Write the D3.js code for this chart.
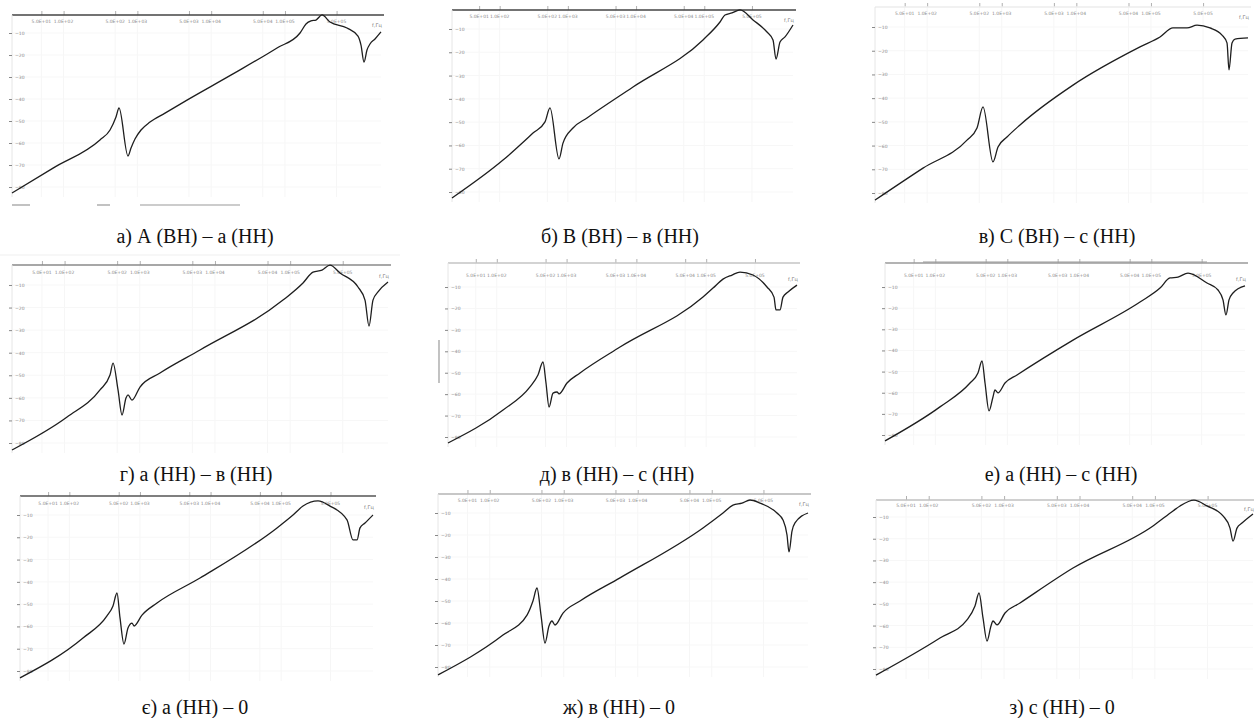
<!DOCTYPE html>
<html>
<head>
<meta charset="utf-8">
<script src="https://cdn.jsdelivr.net/npm/d3@7"></script>
<style>
  body { margin: 0; background: #fff; }
  svg { display: block; }
  .caption { font-family: 'Liberation Serif', 'Times New Roman', serif; }
</style>
</head>
<body>
<svg id="chart" width="1254" height="718"></svg>
<script>
'use strict';

// Tick values (log frequency, Hz / attenuation, dB).
var freqTicks = [50, 100, 500, 1000, 5000, 10000, 50000, 100000, 500000];
var freqTickLabels = ['5.0E+01', '1.0E+02', '5.0E+02', '1.0E+03', '5.0E+03',
  '1.0E+04', '5.0E+04', '1.0E+05', '5.0E+05'];
var dbTicks = [-10, -20, -30, -40, -50, -60, -70, -80];
var freqUnit = 'f,Гц';

var captions = [
  'а) А (ВН) – а (НН)', 'б) В (ВН) – в (НН)', 'в) С (ВН) – с (НН)',
  'г) а (НН) – в (НН)', 'д) в (НН) – с (НН)', 'е) а (НН) – с (НН)',
  'є) а (НН) – 0', 'ж) в (НН) – 0', 'з) с (НН) – 0'
];

// [frequency Hz, level dB]
var respA = [[20, -82.7], [72, -71.4], [311, -58.6], [426, -54.1], [513, -48.2], [564, -44.1],
  [746, -65.9], [820, -62.3], [928, -58.2], [1120, -54.1], [1482, -50.5], [2368, -46.4],
  [4702, -40.5], [19750, -28.6], [77960, -16.8], [159800, -10.0], [192600, -5.9],
  [225200, -4.5], [263200, -4.1], [317400, -1.8], [407400, -5.0], [692400, -7.7],
  [975800, -11.4], [1071600, -15.5], [1176800, -23.2], [1292000, -17.7], [1419000, -15.0],
  [1659000, -12.7], [2000000, -9.5]];

var respB = [[20, -82.6], [112, -66.3], [308, -54.7], [462, -49.9], [547, -43.9], [741, -65.8],
  [848, -59.0], [1189, -52.5], [1908, -48.2], [9016, -34.9], [95820, -14.7], [170100, -7.0],
  [201300, -4.0], [255000, -3.1], [334200, -1.8], [518400, -6.1], [831400, -11.3],
  [1018000, -14.7], [1127000, -22.9], [1290000, -15.6], [1527000, -13.4], [2000000, -8.3]];

var respC = [[20, -83.0], [88, -69.5], [342, -57.7], [466, -52.6], [561, -43.7], [763, -66.9],
  [891, -60.6], [1176, -56.4], [1757, -51.3], [9020, -34.5], [71340, -18.4], [132300, -14.2],
  [197500, -10.4], [304400, -10.4], [414500, -9.2], [619000, -10.4], [896400, -13.4],
  [1046000, -16.7], [1113000, -28.1], [1221000, -16.7], [1339000, -15.1], [2000000, -14.6]];

var respD = [[20, -83.1], [108, -68.5], [296, -56.5], [402, -49.9], [441, -44.6], [514, -56.5],
  [581, -67.6], [656, -60.1], [697, -58.7], [788, -61.0], [1007, -55.2], [1858, -49.0],
  [6325, -38.8], [80300, -16.7], [148200, -9.1], [201300, -4.3], [265100, -3.4],
  [338600, -1.2], [460000, -4.7], [798200, -10.9], [988800, -16.7], [1118000, -28.2],
  [1263000, -16.7], [1472000, -13.1], [2000000, -8.7]];

var respE = [[20, -82.8], [123, -67.4], [299, -56.6], [389, -51.1], [459, -45.0], [507, -54.8],
  [560, -66.0], [639, -59.5], [729, -59.0], [779, -59.9], [1014, -54.8], [1557, -50.1],
  [5824, -38.0], [90020, -14.7], [125200, -10.5], [174100, -6.3], [234400, -4.4],
  [305200, -3.0], [468400, -4.4], [743400, -10.0], [936600, -14.7], [1000000, -20.7],
  [1141000, -20.7], [1260000, -14.7], [1486000, -12.3], [2000000, -9.1]];

var respF = [[20, -82.8], [116, -66.7], [303, -55.4], [391, -50.7], [445, -45.0], [490, -55.4],
  [557, -68.6], [632, -62.0], [674, -58.7], [742, -60.1], [928, -55.4], [1363, -51.6],
  [8170, -35.1], [69620, -17.1], [132000, -10.5], [181700, -5.7], [234600, -5.3],
  [323200, -3.4], [593200, -8.1], [843400, -11.4], [989600, -16.1], [1089000, -23.2],
  [1199000, -16.1], [1363000, -12.8], [2000000, -9.5]];

var respG = [[20, -83.1], [156, -65.2], [341, -55.3], [415, -50.8], [473, -45.0], [522, -56.2],
  [594, -67.9], [677, -60.7], [772, -58.5], [824, -59.8], [1069, -54.9], [1744, -49.5],
  [7090, -38.3], [87360, -15.8], [147200, -10.0], [203900, -6.0], [332700, -3.7],
  [492000, -6.0], [856500, -12.2], [1042000, -21.2], [1187000, -21.2], [1309000, -15.8],
  [1541000, -13.6], [2000000, -10.0]];

var respH = [[20, -83.6], [151, -65.5], [319, -56.4], [384, -50.0], [435, -44.1], [493, -56.4],
  [558, -69.1], [632, -61.4], [694, -59.1], [762, -60.9], [978, -55.5], [1659, -50.0],
  [5760, -39.5], [76220, -16.8], [142100, -10.0], [193900, -6.4], [256600, -5.5],
  [329000, -4.1], [449300, -5.5], [762200, -10.0], [918800, -13.2], [1041000, -20.0],
  [1107000, -27.7], [1216000, -18.2], [1334000, -14.5], [2000000, -10.0]];

var respI = [[20, -82.8], [141, -65.7], [322, -57.4], [411, -51.0], [465, -45.0], [525, -56.5],
  [593, -67.1], [670, -60.2], [712, -57.9], [805, -59.7], [1028, -54.2], [1625, -49.6],
  [8202, -33.5], [94360, -14.1], [173800, -7.2], [215200, -4.9], [330000, -2.2],
  [490800, -4.9], [800000, -9.5], [991000, -15.1], [1086000, -21.1], [1227000, -15.1],
  [1429000, -12.8], [2000000, -8.6]];

var series = [respA, respB, respC, respD, respE, respF, respG, respH, respI];

// Layout of each small plot inside the 1254x718 page (pixels).
var panels = [
  { L: 12, R: 381, y0: 11, y80: 187, top: 15, lab: 23, line: '#444', cx: 195, cy: 243 },
  { L: 452, R: 793, y0: 5.7, y80: 192, top: 10, lab: 18, line: '#444', cx: 620, cy: 243 },
  { L: 875, R: 1248, y0: 3.3, y80: 193, top: 7, lab: 15, line: '#ececec', cx: 1057, cy: 243 },
  { L: 12, R: 388, y0: 262.4, y80: 443, top: 265, lab: 274, line: '#8a8a8a', cx: 196, cy: 481 },
  { L: 448, R: 797, y0: 265.6, y80: 437, top: 263, lab: 277, line: '#c4c4c4', cx: 617, cy: 481 },
  { L: 885, R: 1245, y0: 265.9, y80: 435, top: 263, lab: 277, line: '#9a9a9a', cx: 1061, cy: 481 },
  { L: 20, R: 373, y0: 492.7, y80: 671, top: 496, lab: 505, line: '#555', cx: 195, cy: 714 },
  { L: 438, R: 808, y0: 491, y80: 667, top: 494, lab: 502, line: '#b4b4b4', cx: 619, cy: 714 },
  { L: 876, R: 1253, y0: 495.3, y80: 669, top: 500, lab: 507, line: '#c0c0c0', cx: 1062, cy: 714 }
];

// Stray screen-capture marks that show up in the scanned figure.
var strays = [
  { x1: 12, y1: 205, x2: 30, y2: 205 },
  { x1: 97, y1: 205, x2: 110, y2: 205 },
  { x1: 140, y1: 205, x2: 240, y2: 205 },
  { x1: 439, y1: 340, x2: 439, y2: 383 },
  { x1: 923, y1: 262, x2: 1207, y2: 262 },
  { x1: 0, y1: 255, x2: 400, y2: 255 }
];

var svg = d3.select('#chart');
var tickFont = 'DejaVu Sans, sans-serif';

var drawPanel = function(p, i) {
  var data = series[i];
  var x = d3.scaleLog().domain([20, 2e6]).range([p.L, p.R]);
  var y = d3.scaleLinear().domain([0, -80]).range([p.y0, p.y80]);
  var bottom = p.y80 + 10;
  var g = svg.append('g').attr('class', 'panel panel' + i);

  // faint grid, barely there in the scan
  g.append('g').selectAll('line')
    .data(freqTicks).enter().append('line')
    .attr('x1', function(d) { return x(d); })
    .attr('x2', function(d) { return x(d); })
    .attr('y1', p.top)
    .attr('y2', bottom)
    .attr('stroke', '#f6f6f6');
  g.append('g').selectAll('line')
    .data(dbTicks).enter().append('line')
    .attr('x1', p.L)
    .attr('x2', p.R)
    .attr('y1', function(d) { return y(d); })
    .attr('y2', function(d) { return y(d); })
    .attr('stroke', '#f7f7f7');

  // top frequency axis: ticks up, labels under the line
  var topAxis = g.append('g')
    .attr('transform', 'translate(0,' + p.top + ')')
    .call(d3.axisTop(x).tickValues(freqTicks).tickSize(4).tickFormat(''));
  topAxis.select('.domain').remove();
  topAxis.selectAll('.tick line').attr('stroke', '#b0b0b0');
  g.append('line')
    .attr('x1', p.L).attr('x2', p.R + 3)
    .attr('y1', p.top).attr('y2', p.top)
    .attr('stroke', p.line)
    .attr('stroke-width', 1.3);
  g.append('g').selectAll('text')
    .data(freqTicks).enter().append('text')
    .attr('x', function(d) { return x(d); })
    .attr('y', p.lab)
    .attr('text-anchor', 'middle')
    .attr('font-family', tickFont)
    .attr('font-size', 4.5)
    .attr('fill', '#8a8a8a')
    .text(function(d, k) { return freqTickLabels[k]; });
  g.append('text')
    .attr('x', p.R - 4)
    .attr('y', p.lab + 4)
    .attr('text-anchor', 'middle')
    .attr('font-family', tickFont)
    .attr('font-size', 5)
    .attr('fill', '#777')
    .text(freqUnit);

  // left level axis, labels sit inside the plot
  var leftAxis = g.append('g')
    .attr('transform', 'translate(' + p.L + ',0)')
    .call(d3.axisLeft(y).tickValues(dbTicks).tickSize(3).tickFormat(d3.format('d')));
  leftAxis.select('.domain')
    .attr('d', 'M0,' + p.top + 'V' + bottom)
    .attr('stroke', '#e6e6e6');
  leftAxis.selectAll('.tick line').attr('stroke', '#888');
  leftAxis.selectAll('.tick text')
    .attr('x', 3)
    .attr('text-anchor', 'start')
    .attr('font-family', tickFont)
    .attr('font-size', 4.5)
    .attr('fill', '#8a8a8a');

  // response curve
  var line = d3.line()
    .curve(d3.curveMonotoneX)
    .x(function(d) { return x(d[0]); })
    .y(function(d) { return y(d[1]); });
  g.append('path')
    .datum(data)
    .attr('d', line)
    .attr('fill', 'none')
    .attr('stroke', '#1e1e1e')
    .attr('stroke-width', 1.3)
    .attr('stroke-linejoin', 'round');

  g.append('text')
    .attr('class', 'caption')
    .attr('x', p.cx)
    .attr('y', p.cy)
    .attr('text-anchor', 'middle')
    .attr('font-size', 20)
    .attr('fill', '#111')
    .text(captions[i]);
};

panels.forEach(drawPanel);

svg.append('g').selectAll('line')
  .data(strays).enter().append('line')
  .attr('x1', function(d) { return d.x1; })
  .attr('y1', function(d) { return d.y1; })
  .attr('x2', function(d) { return d.x2; })
  .attr('y2', function(d) { return d.y2; })
  .attr('stroke', function(d, i) { return i === 5 ? '#efefef' : '#9a9a9a'; })
  .attr('stroke-width', 1.2);
</script>
</body>
</html>
